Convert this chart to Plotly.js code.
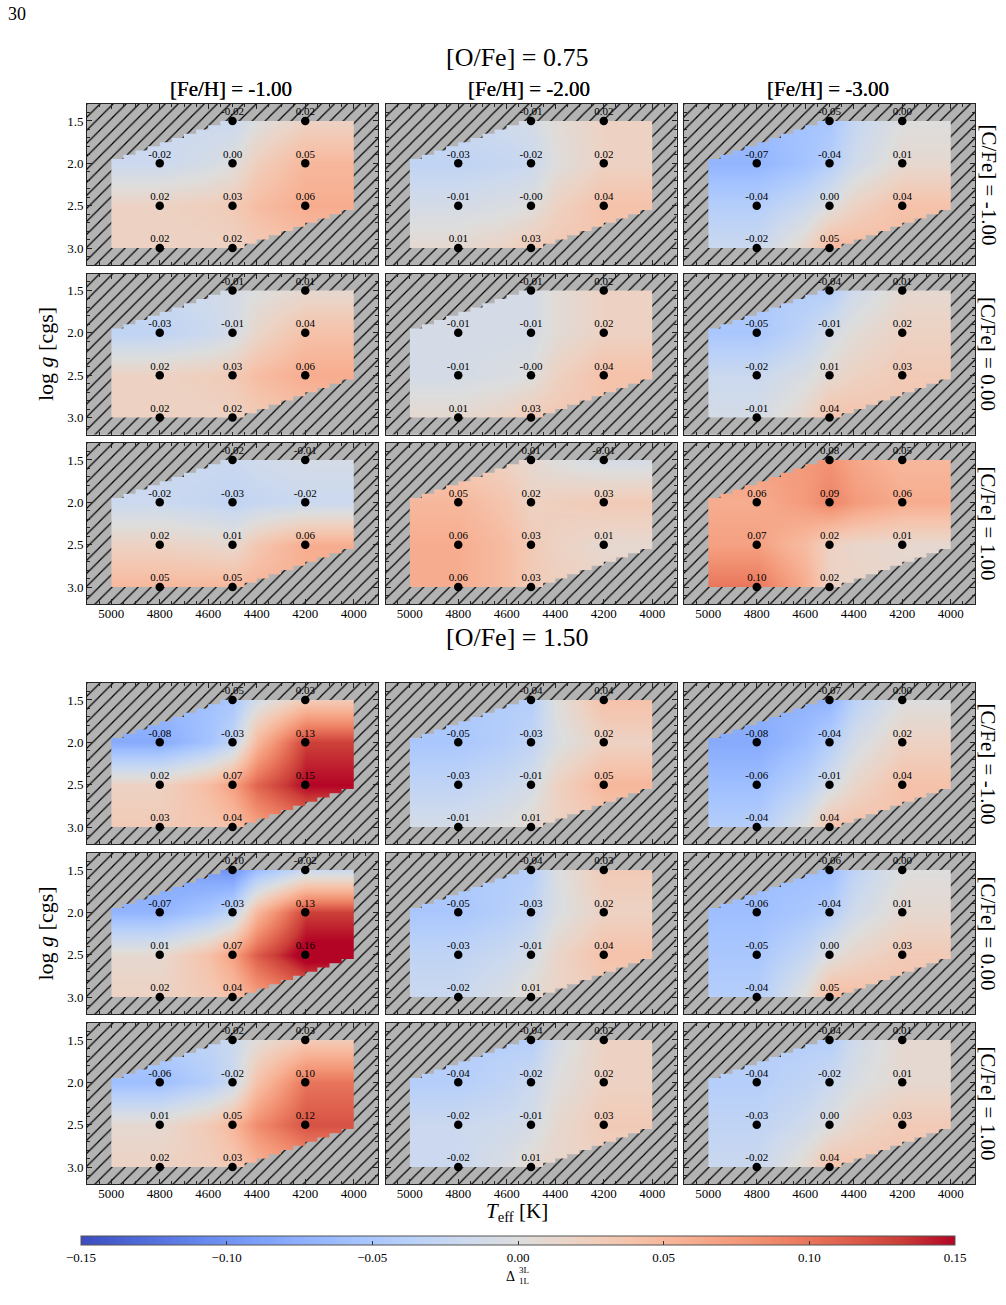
<!DOCTYPE html>
<html>
<head>
<meta charset="utf-8">
<script src="https://cdn.plot.ly/plotly-3.0.1.min.js"></script>
<style>html,body{margin:0;padding:0;background:#fff;}</style>
</head>
<body>
<div id="chart" style="width:1006px;height:1305px;"></div>
<script>
// Model grid (Teff ascending, log g ascending)
const TEFF_GRID = [4200, 4500, 4800];
const LOGG_GRID = [1.5, 2.0, 2.5, 3.0];
// Grid points that were computed; every value array below follows this order
const POINT_TEFF = [4500, 4200, 4800, 4500, 4200, 4800, 4500, 4200, 4800, 4500];
const POINT_LOGG = [1.5, 1.5, 2.0, 2.0, 2.0, 2.5, 2.5, 2.5, 3.0, 3.0];

const OFE_LABELS = ['0.75', '1.50'];
const FEH_LABELS = ['-1.00', '-2.00', '-3.00'];
const CFE_LABELS = ['-1.00', '0.00', '1.00'];

const XTICK_VALUES = [5000, 4800, 4600, 4400, 4200, 4000];
const YTICK_VALUES = [1.5, 2.0, 2.5, 3.0];
const CBAR_TICKS = [-0.15, -0.10, -0.05, 0.00, 0.05, 0.10, 0.15];

// Delta(3L-1L), [O/Fe] = 0.75
const ofe075_cfeM1_fehM1 = [-0.02, 0.02, -0.02, 0.00, 0.05, 0.02, 0.03, 0.06, 0.02, 0.02];
const ofe075_cfeM1_fehM2 = [-0.01, 0.02, -0.03, -0.02, 0.02, -0.01, -0.00, 0.04, 0.01, 0.03];
const ofe075_cfeM1_fehM3 = [-0.05, 0.00, -0.07, -0.04, 0.01, -0.04, 0.00, 0.04, -0.02, 0.05];
const ofe075_cfe0_fehM1  = [-0.01, 0.01, -0.03, -0.01, 0.04, 0.02, 0.03, 0.06, 0.02, 0.02];
const ofe075_cfe0_fehM2  = [-0.01, 0.02, -0.01, -0.01, 0.02, -0.01, -0.00, 0.04, 0.01, 0.03];
const ofe075_cfe0_fehM3  = [-0.04, 0.01, -0.05, -0.01, 0.02, -0.02, 0.01, 0.03, -0.01, 0.04];
const ofe075_cfeP1_fehM1 = [-0.02, -0.01, -0.02, -0.03, -0.02, 0.02, 0.01, 0.06, 0.05, 0.05];
const ofe075_cfeP1_fehM2 = [0.01, -0.01, 0.05, 0.02, 0.03, 0.06, 0.03, 0.01, 0.06, 0.03];
const ofe075_cfeP1_fehM3 = [0.08, 0.05, 0.06, 0.09, 0.06, 0.07, 0.02, 0.01, 0.10, 0.02];

// Delta(3L-1L), [O/Fe] = 1.50
const ofe150_cfeM1_fehM1 = [-0.05, 0.03, -0.08, -0.03, 0.13, 0.02, 0.07, 0.15, 0.03, 0.04];
const ofe150_cfeM1_fehM2 = [-0.04, 0.04, -0.05, -0.03, 0.02, -0.03, -0.01, 0.05, -0.01, 0.01];
const ofe150_cfeM1_fehM3 = [-0.07, 0.00, -0.08, -0.04, 0.02, -0.06, -0.01, 0.04, -0.04, 0.04];
const ofe150_cfe0_fehM1  = [-0.10, -0.02, -0.07, -0.03, 0.13, 0.01, 0.07, 0.16, 0.02, 0.04];
const ofe150_cfe0_fehM2  = [-0.04, 0.03, -0.05, -0.03, 0.02, -0.03, -0.01, 0.04, -0.02, 0.01];
const ofe150_cfe0_fehM3  = [-0.06, 0.00, -0.06, -0.04, 0.01, -0.05, 0.00, 0.03, -0.04, 0.05];
const ofe150_cfeP1_fehM1 = [-0.02, 0.03, -0.06, -0.02, 0.10, 0.01, 0.05, 0.12, 0.02, 0.03];
const ofe150_cfeP1_fehM2 = [-0.04, 0.02, -0.04, -0.02, 0.02, -0.02, -0.01, 0.03, -0.02, 0.01];
const ofe150_cfeP1_fehM3 = [-0.04, 0.01, -0.04, -0.02, 0.01, -0.03, 0.00, 0.03, -0.02, 0.04];

const PANELS = [
  [[ofe075_cfeM1_fehM1, ofe075_cfeM1_fehM2, ofe075_cfeM1_fehM3],
   [ofe075_cfe0_fehM1,  ofe075_cfe0_fehM2,  ofe075_cfe0_fehM3],
   [ofe075_cfeP1_fehM1, ofe075_cfeP1_fehM2, ofe075_cfeP1_fehM3]],
  [[ofe150_cfeM1_fehM1, ofe150_cfeM1_fehM2, ofe150_cfeM1_fehM3],
   [ofe150_cfe0_fehM1,  ofe150_cfe0_fehM2,  ofe150_cfe0_fehM3],
   [ofe150_cfeP1_fehM1, ofe150_cfeP1_fehM2, ofe150_cfeP1_fehM3]]
];

// ---- styling / geometry ----
const W = 1006, H = 1305;
const SERIF = 'Liberation Serif, DejaVu Serif, serif';
const HATCH_BG = '#b3b3b3';
const COL_LEFT = [87, 385.5, 684];
const ROW_TOP = [[104, 273.5, 443], [683, 853, 1023]];
const PANEL_W = 291, PANEL_H = 161;
const X_RANGE = [5100, 3900], Y_RANGE = [3.2, 1.3];
const T_HOT = 5000, T_COOL = 4000, T_MID = 4500, G_TOP = 1.5, G_BOT = 3.0;
const NSTEP = 10;

// matplotlib "coolwarm"
const COOLWARM = [
  [0.0, 'rgb(59,76,192)'], [0.0625, 'rgb(77,104,215)'], [0.125, 'rgb(98,130,234)'],
  [0.1875, 'rgb(119,154,247)'], [0.25, 'rgb(141,176,254)'], [0.3125, 'rgb(163,194,255)'],
  [0.375, 'rgb(184,208,249)'], [0.4375, 'rgb(204,217,238)'], [0.5, 'rgb(221,221,221)'],
  [0.5625, 'rgb(236,211,197)'], [0.625, 'rgb(245,196,173)'], [0.6875, 'rgb(247,177,148)'],
  [0.75, 'rgb(244,154,123)'], [0.8125, 'rgb(236,127,99)'], [0.875, 'rgb(222,96,77)'],
  [0.9375, 'rgb(203,62,56)'], [1.0, 'rgb(180,4,38)']
];

const px2x = p => p / W;
const px2y = p => 1 - p / H;

// cell edges whose midpoints are the grid temperatures, spanning T_COOL..T_HOT
function teffEdges() {
  const e = [T_COOL];
  TEFF_GRID.forEach(t => e.push(2 * t - e[e.length - 1]));
  return e;
}

function fieldFrom(vals) {
  const z = LOGG_GRID.map(() => TEFF_GRID.map(() => null));
  vals.forEach((v, i) => {
    z[LOGG_GRID.indexOf(POINT_LOGG[i])][TEFF_GRID.indexOf(POINT_TEFF[i])] = v;
  });
  return z;
}

function label(v) {
  return Object.is(v, -0) ? '-0.00' : v.toFixed(2);
}

// hatched area outside the computed domain (stepped diagonal borders)
function maskOutline() {
  const xs = [], ys = [];
  const add = (x, y) => { xs.push(x); ys.push(y); };
  const w = (T_HOT - T_MID) / NSTEP, dg = w / 1000;
  add(5300, 3.4); add(5300, 1.1); add(3700, 1.1); add(3700, G_TOP); add(T_MID, G_TOP);
  for (let k = 1; k <= NSTEP; k++) {
    const t = T_MID + k * w;
    add(t, G_TOP + (k - 1) * dg); add(t, G_TOP + k * dg);
  }
  add(T_HOT, 3.4);
  add(null, null);
  add(3700, G_TOP); add(3700, 3.4); add(T_HOT, 3.4); add(T_HOT, G_BOT); add(T_MID, G_BOT);
  for (let k = 1; k <= NSTEP; k++) {
    const t = T_MID - k * w;
    add(t, G_BOT - (k - 1) * dg); add(t, G_BOT - k * dg);
  }
  add(T_COOL, G_TOP);
  return {xs, ys};
}

const traces = [];
const layout = {
  width: W, height: H,
  margin: {l: 0, r: 0, t: 0, b: 0, autoexpand: false},
  paper_bgcolor: '#ffffff',
  plot_bgcolor: HATCH_BG,
  showlegend: false,
  font: {family: SERIF, color: '#000'},
  annotations: []
};

const edges = teffEdges();
const mask = maskOutline();
let idx = 0;

for (let g = 0; g < 2; g++) {
  for (let r = 0; r < 3; r++) {
    for (let c = 0; c < 3; c++) {
      idx++;
      const xa = 'x' + idx, ya = 'y' + idx;
      const vals = PANELS[g][r][c];
      const left = COL_LEFT[c], top = ROW_TOP[g][r];

      const hm = {
        type: 'heatmap', xaxis: xa, yaxis: ya,
        x: edges, y: LOGG_GRID, z: fieldFrom(vals),
        zsmooth: 'best', connectgaps: true,
        zmin: -0.15, zmax: 0.15, colorscale: COOLWARM,
        showscale: idx === 1, hoverinfo: 'skip'
      };
      if (idx === 1) {
        hm.colorbar = {
          orientation: 'h', lenmode: 'pixels', len: 874,
          thicknessmode: 'pixels', thickness: 9,
          x: px2x(518), xanchor: 'center', y: px2y(1236), yanchor: 'top',
          xpad: 0, ypad: 0,
          outlinewidth: 1, outlinecolor: '#555',
          tickmode: 'array', tickvals: CBAR_TICKS,
          ticktext: CBAR_TICKS.map(v => (v < 0 ? '\u2212' : '') + Math.abs(v).toFixed(2)),
          ticks: 'inside', ticklen: 4, tickcolor: '#333',
          tickfont: {family: SERIF, size: 13, color: '#000'}
        };
      }
      traces.push(hm);

      traces.push({
        type: 'scatter', mode: 'lines', xaxis: xa, yaxis: ya,
        x: mask.xs, y: mask.ys, fill: 'toself', connectgaps: false,
        fillcolor: HATCH_BG, line: {width: 0, color: HATCH_BG},
        fillpattern: {shape: '/', bgcolor: HATCH_BG, fgcolor: '#000', size: 9.2, solidity: 0.13},
        hoverinfo: 'skip'
      });

      // grid points
      traces.push({
        type: 'scatter', mode: 'markers', xaxis: xa, yaxis: ya,
        x: POINT_TEFF, y: POINT_LOGG,
        marker: {size: 8.5, color: '#000'}, cliponaxis: false,
        hoverinfo: 'skip'
      });
      // value labels just above each point
      traces.push({
        type: 'scatter', mode: 'markers+text', xaxis: xa, yaxis: ya,
        x: POINT_TEFF, y: POINT_LOGG, text: vals.map(label),
        textposition: 'top center', cliponaxis: false,
        textfont: {family: SERIF, size: 11, color: '#000'},
        marker: {size: 3, color: 'rgba(0,0,0,0)'},
        hoverinfo: 'skip'
      });

      const bottomRow = r === 2, leftCol = c === 0;
      layout['xaxis' + idx] = {
        domain: [px2x(left), px2x(left + PANEL_W)], anchor: ya,
        range: X_RANGE, tickmode: 'array', tickvals: XTICK_VALUES,
        ticktext: XTICK_VALUES.map(String),
        showticklabels: bottomRow, ticklabelstandoff: -3,
        ticks: 'inside', ticklen: 5, tickwidth: 1, tickcolor: '#222',
        minor: {tickmode: 'linear', tick0: 5000, dtick: 50, ticks: 'inside', ticklen: 3, tickcolor: '#222'},
        mirror: 'allticks', showline: true, linecolor: '#222', linewidth: 1,
        showgrid: false, zeroline: false,
        tickfont: {family: SERIF, size: 13, color: '#000'}
      };
      layout['yaxis' + idx] = {
        domain: [px2y(top + PANEL_H), px2y(top)], anchor: xa,
        range: Y_RANGE, tickmode: 'array', tickvals: YTICK_VALUES,
        ticktext: YTICK_VALUES.map(v => v.toFixed(1)),
        showticklabels: leftCol,
        ticks: 'inside', ticklen: 5, tickwidth: 1, tickcolor: '#222',
        minor: {tickmode: 'linear', tick0: 1.5, dtick: 0.1, ticks: 'inside', ticklen: 3, tickcolor: '#222'},
        mirror: 'allticks', showline: true, linecolor: '#222', linewidth: 1,
        showgrid: false, zeroline: false,
        tickfont: {family: SERIF, size: 13, color: '#000'}
      };

      if (r === 0) {
        layout.annotations.push({
          xref: 'paper', yref: 'paper', x: px2x(left + PANEL_W / 2 - 2), y: px2y(89),
          xanchor: 'center', yanchor: 'middle', showarrow: false,
          text: '[Fe/H] = ' + FEH_LABELS[c], font: {family: SERIF, size: 21, color: '#000'}
        });
      }
      if (c === 2) {
        layout.annotations.push({
          xref: 'paper', yref: 'paper', x: px2x(988), y: px2y(top + PANEL_H / 2),
          xanchor: 'center', yanchor: 'middle', showarrow: false, textangle: 90,
          text: '[C/Fe] = ' + CFE_LABELS[r], font: {family: SERIF, size: 21, color: '#000'}
        });
      }
    }
  }
  // group title and y-axis title
  layout.annotations.push({
    xref: 'paper', yref: 'paper', x: px2x(517), y: px2y(g === 0 ? 57 : 637),
    xanchor: 'center', yanchor: 'middle', showarrow: false,
    text: '[O/Fe] = ' + OFE_LABELS[g], font: {family: SERIF, size: 26, color: '#000'}
  });
  layout.annotations.push({
    xref: 'paper', yref: 'paper', x: px2x(45), y: px2y(ROW_TOP[g][1] + PANEL_H / 2),
    xanchor: 'center', yanchor: 'middle', showarrow: false, textangle: -90,
    text: 'log <i>g</i> [cgs]', font: {family: SERIF, size: 22, color: '#000'}
  });
}

// page number, Teff axis title, colour-bar label
layout.annotations.push(
  {xref: 'paper', yref: 'paper', x: px2x(6), y: px2y(14), xanchor: 'left', yanchor: 'middle',
   showarrow: false, text: '30', font: {family: SERIF, size: 18, color: '#000'}},
  {xref: 'paper', yref: 'paper', x: px2x(517), y: px2y(1212), xanchor: 'center', yanchor: 'middle',
   showarrow: false, text: '<i>T</i><sub>eff</sub> [K]', font: {family: SERIF, size: 21, color: '#000'}},
  {xref: 'paper', yref: 'paper', x: px2x(517), y: px2y(1276), xanchor: 'right', yanchor: 'middle',
   showarrow: false, text: '\u0394', font: {family: SERIF, size: 14, color: '#000'}},
  {xref: 'paper', yref: 'paper', x: px2x(517), y: px2y(1270), xanchor: 'left', yanchor: 'middle',
   showarrow: false, text: '3L', font: {family: SERIF, size: 9, color: '#000'}},
  {xref: 'paper', yref: 'paper', x: px2x(517), y: px2y(1281), xanchor: 'left', yanchor: 'middle',
   showarrow: false, text: '1L', font: {family: SERIF, size: 9, color: '#000'}}
);

Plotly.newPlot('chart', traces, layout, {staticPlot: true, displayModeBar: false});
</script>
</body>
</html>
